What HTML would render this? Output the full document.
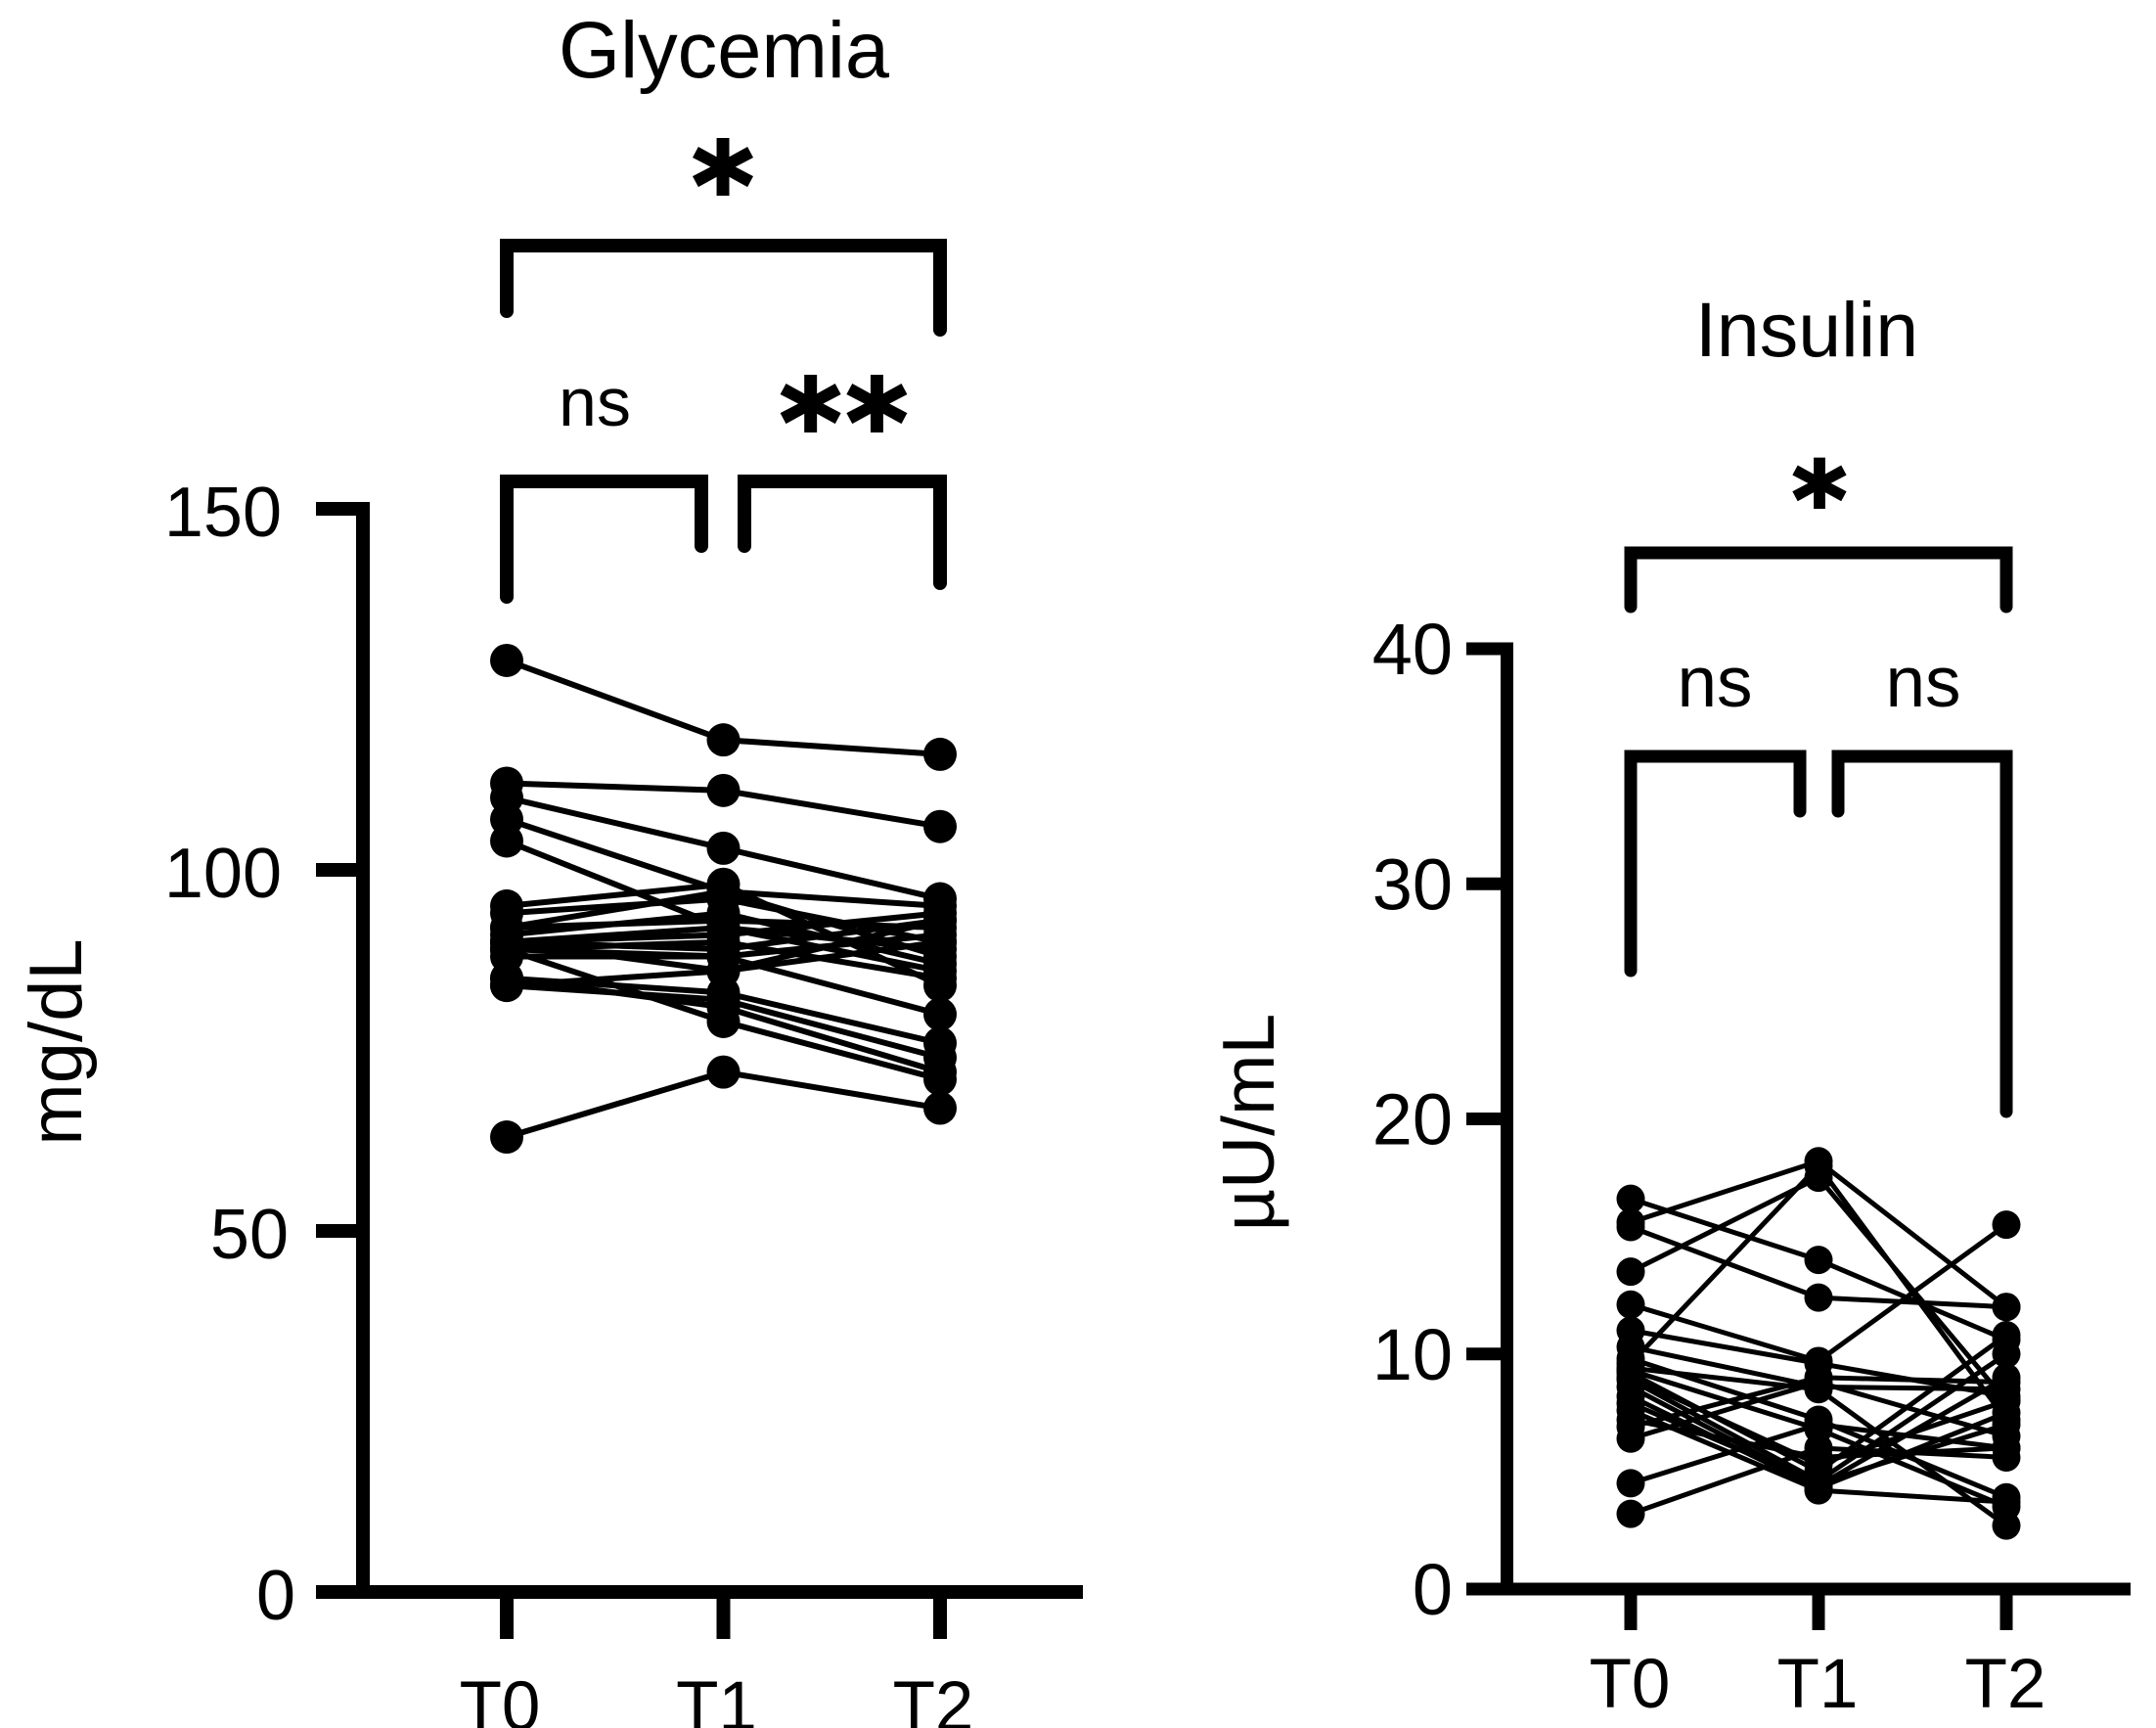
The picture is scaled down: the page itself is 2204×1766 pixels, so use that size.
<!DOCTYPE html>
<html>
<head>
<meta charset="utf-8">
<title>Glycemia and Insulin</title>
<style>
  html, body { margin: 0; padding: 0; background: #fff; }
  svg { display: block; }
  text { font-family: "Liberation Sans", Arial, sans-serif; fill: #000; }
  .star { font-family: "DejaVu Sans", sans-serif; font-weight: bold; stroke: #000; stroke-width: 3; }
  .bracket { fill: none; stroke: #000; stroke-linejoin: miter; stroke-linecap: round; }
</style>
</head>
<body>
<svg id="figure" xmlns="http://www.w3.org/2000/svg" width="2204" height="1766" viewBox="0 0 2204 1766">
  <rect width="2204" height="1766" fill="#fff"/>

  <g id="glycemia-chart">
    <text x="740" y="79" font-size="82" text-anchor="middle" textLength="338" lengthAdjust="spacingAndGlyphs">Glycemia</text>
    <text transform="translate(83 1065) rotate(-90)" font-size="76" text-anchor="middle">mg/dL</text>
    <path class="bracket" stroke-width="14" d="M518 318V251H961V337"/>
    <path class="bracket" stroke-width="14" d="M518 610V492H717V558"/>
    <path class="bracket" stroke-width="14" d="M761 558V492H961V596"/>
    <text class="star" x="739" y="232" font-size="120" text-anchor="middle">*</text>
    <text x="608" y="435" font-size="70" text-anchor="middle">ns</text>
    <text class="star" x="865" y="474" font-size="120" text-anchor="middle" letter-spacing="5">**</text>
  </g>

  <g id="insulin-chart">
    <text x="1847" y="364" font-size="79" text-anchor="middle">Insulin</text>
    <text transform="translate(1302 1147) rotate(-90)" font-size="75" text-anchor="middle">µU/mL</text>
    <path class="bracket" stroke-width="13" d="M1667 620V565H2051V620"/>
    <path class="bracket" stroke-width="13" d="M1667 992V773H1840V829"/>
    <path class="bracket" stroke-width="13" d="M1879 829V773H2051V1136"/>
    <text class="star" x="1860" y="548" font-size="106" text-anchor="middle">*</text>
    <text x="1753" y="722" font-size="73" text-anchor="middle">ns</text>
    <text x="1966" y="722" font-size="73" text-anchor="middle">ns</text>
  </g>
</svg>

<script>
var timepoints = ['T0', 'T1', 'T2'];

var glycemiaTicks = [0, 50, 100, 150];
var glycemiaT0 = [129, 112, 110, 107, 104, 95, 94, 92, 91, 90, 90, 90, 89, 89, 88, 85, 84, 85, 84, 63, 90, 92, 89];
var glycemiaT1 = [118, 111, 103, 97, 92, 98, 96, 97, 94, 89, 91, 92, 88, 90, 88, 83, 82, 81, 86, 72, 86, 93, 79];
var glycemiaT2 = [116, 106, 96, 88, 86, 84, 90, 95, 87, 93, 94, 89, 91, 85, 80, 76, 74, 72, 93, 67, 90, 92, 71];

var insulinTicks = [0, 10, 20, 30, 40];
var insulinT0 = [16.6, 15.6, 15.4, 13.5, 12.1, 11, 10.3, 9.6, 9.8, 9.4, 9.3, 9.2, 8.9, 8.6, 8.2, 7.9, 7.6, 7.2, 6.9, 6.4, 4.5, 3.2, 9];
var insulinT1 = [14, 18.2, 12.4, 17.5, 9.7, 9.6, 8.6, 18, 7.2, 8.5, 6.8, 5, 4.6, 4.4, 4.3, 4.5, 4.2, 5.6, 9, 8.8, 7, 6, 5.3];
var insulinT2 = [10.6, 12, 12, 8, 15.5, 8.2, 8.5, 7.2, 3.9, 2.7, 3.5, 10.8, 10, 9, 7.5, 7, 3.7, 6, 8.8, 6.5, 6, 5.6, 8];

var SVG_NS = 'http://www.w3.org/2000/svg';

function make(tag, parent) {
  var el = document.createElementNS(SVG_NS, tag);
  parent.appendChild(el);
  return el;
}

function drawChart(cfg) {
  var root = document.getElementById(cfg.id);
  var y = function (v) { return cfg.y0 - (v - cfg.dMin) * (cfg.y0 - cfg.y1) / (cfg.dMax - cfg.dMin); };
  var x = function (i) { return cfg.x0 + i * cfg.xStep; };

  var linesGroup = make('g', root);
  
  
  cfg.series[0].forEach(function (_, s) {
    var line = make('polyline', linesGroup);
    
    
    var pts = cfg.series.map(function (col, i) { return x(i) + ',' + y(col[s]); }).join(' ');
    line.setAttribute('points', pts);
    line.setAttribute('fill', 'none');
    line.setAttribute('stroke', '#000');
    line.setAttribute('stroke-width', cfg.lineWidth);
  });

  var pointsGroup = make('g', root);
  
  
  cfg.series.forEach(function (col, i) {
    col.forEach(function (v) {
      var c = make('circle', pointsGroup);
      
      
      c.setAttribute('cx', x(i));
      c.setAttribute('cy', y(v));
      c.setAttribute('r', cfg.r);
      c.setAttribute('fill', '#000');
    });
  });

  var half = cfg.axisWidth / 2;
  var yAxis = make('line', root);
  
  
  yAxis.setAttribute('x1', cfg.axisX);
  yAxis.setAttribute('x2', cfg.axisX);
  yAxis.setAttribute('y1', y(cfg.dMax) - half);
  yAxis.setAttribute('y2', y(cfg.dMin));
  yAxis.setAttribute('stroke', '#000');
  yAxis.setAttribute('stroke-width', cfg.axisWidth);

  var xAxis = make('line', root);
  
  
  xAxis.setAttribute('x1', cfg.tickLeft);
  xAxis.setAttribute('x2', cfg.axisRight);
  xAxis.setAttribute('y1', y(cfg.dMin));
  xAxis.setAttribute('y2', y(cfg.dMin));
  xAxis.setAttribute('stroke', '#000');
  xAxis.setAttribute('stroke-width', cfg.axisWidth);

  cfg.ticks.forEach(function (t) {
    var tick = make('line', root);
    
    
    tick.setAttribute('x1', cfg.tickLeft);
    tick.setAttribute('x2', cfg.axisX);
    tick.setAttribute('y1', y(t));
    tick.setAttribute('y2', y(t));
    tick.setAttribute('stroke', '#000');
    tick.setAttribute('stroke-width', cfg.axisWidth);

    var label = make('text', root);
    
    
    var digits = String(t).length;
    label.setAttribute('x', cfg.labelRight + (cfg.maxDigits - digits) * cfg.labelShift);
    label.setAttribute('y', y(t) + cfg.labelDrop);
    label.setAttribute('font-size', cfg.labelSize);
    label.setAttribute('text-anchor', 'end');
    label.textContent = t;
  });

  cfg.categories.forEach(function (name, i) {
    var tick = make('line', root);
    
    
    tick.setAttribute('x1', x(i));
    tick.setAttribute('x2', x(i));
    tick.setAttribute('y1', y(cfg.dMin));
    tick.setAttribute('y2', cfg.tickBottom);
    tick.setAttribute('stroke', '#000');
    tick.setAttribute('stroke-width', cfg.axisWidth);

    var label = make('text', root);
    
    
    label.setAttribute('x', x(i) + cfg.catOffset);
    label.setAttribute('y', cfg.catBaseline);
    label.setAttribute('font-size', cfg.catSize);
    label.setAttribute('text-anchor', 'middle');
    label.textContent = name;
  });
}

drawChart({
  id: 'glycemia-chart', series: [glycemiaT0, glycemiaT1, glycemiaT2], ticks: glycemiaTicks, categories: timepoints,
  dMin: 0, dMax: 150, y0: 1627, y1: 520, x0: 518, xStep: 221.5, r: 17, lineWidth: 6,
  axisX: 371, axisWidth: 14, tickLeft: 323, axisRight: 1107, tickBottom: 1675,
  labelRight: 288, labelShift: 7, maxDigits: 3, labelDrop: 28, labelSize: 72,
  catOffset: -7, catBaseline: 1768, catSize: 71
});

drawChart({
  id: 'insulin-chart', series: [insulinT0, insulinT1, insulinT2], ticks: insulinTicks, categories: timepoints,
  dMin: 0, dMax: 40, y0: 1624, y1: 663, x0: 1667, xStep: 192, r: 14.5, lineWidth: 5,
  axisX: 1540.5, axisWidth: 13, tickLeft: 1499, axisRight: 2178, tickBottom: 1666,
  labelRight: 1485, labelShift: 0, maxDigits: 2, labelDrop: 26, labelSize: 74,
  catOffset: -1, catBaseline: 1745, catSize: 71
});
</script>
</body>
</html>
